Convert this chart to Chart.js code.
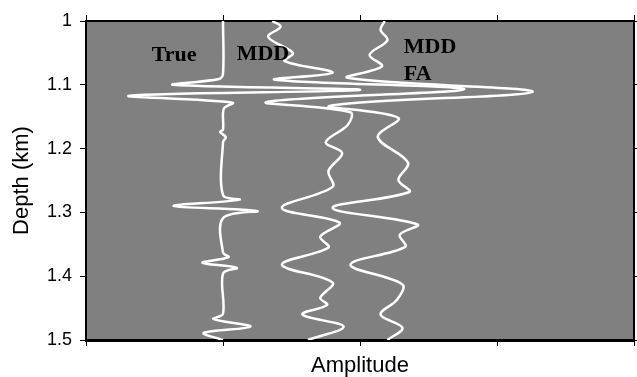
<!DOCTYPE html>
<html>
<head>
<meta charset="utf-8">
<script src="https://cdn.jsdelivr.net/npm/chart.js@4.4.1/dist/chart.umd.min.js"></script>
<style>
  html, body { margin: 0; padding: 0; background: #fff; }
  canvas { display: block; }
</style>
</head>
<body>
<canvas id="traces" width="637" height="377"></canvas>
<script>
// depth axis (km)
const depthMin = 1.0;
const depthMax = 1.5;
const depthTicks = ['1', '1.1', '1.2', '1.3', '1.4', '1.5'];

// trace offsets along the amplitude axis
const trueOffset = 1.0;
const mddOffset = 1.65;
const mddFaOffset = 2.2;

// True trace: depth samples and amplitudes
const trueDepth = [1.000, 1.083, 1.091, 1.100, 1.108, 1.117, 1.128, 1.136, 1.144, 1.170, 1.174, 1.182, 1.190,
  1.273, 1.280, 1.290, 1.298, 1.309, 1.363, 1.370, 1.379, 1.387, 1.396, 1.459, 1.467, 1.479, 1.489, 1.500];
const trueAmp = [0, 0, -0.03, -0.36, 1.0, -0.68, 0.07, 0.01, 0, 0, -0.02, 0.02, 0,
  0, 0.12, -0.36, 0.25, 0, 0, 0.04, -0.15, 0.10, 0, 0, -0.07, 0.20, -0.14, 0];

// MDD trace
const mddDepth = [1.000, 1.009, 1.025, 1.050, 1.063, 1.081, 1.092, 1.107, 1.127, 1.143, 1.163, 1.190, 1.207,
  1.235, 1.260, 1.293, 1.316, 1.338, 1.355, 1.382, 1.410, 1.434, 1.445, 1.460, 1.479, 1.500];
const mddAmp = [-0.29, -0.23, -0.32, -0.14, -0.20, 0.15, -0.27, 1.11, -0.33, 0.28, 0.26, 0.10, 0.22,
  0.12, 0.15, -0.22, 0.20, 0.06, 0.12, -0.22, 0.15, 0.06, 0.11, -0.07, 0.23, -0.03];

// MDD FA trace
const mddFaDepth = [1.000, 1.014, 1.030, 1.053, 1.071, 1.089, 1.111, 1.133, 1.152, 1.182, 1.222, 1.249, 1.268,
  1.293, 1.319, 1.335, 1.354, 1.382, 1.413, 1.437, 1.460, 1.481, 1.500];
const mddFaAmp = [-0.02, -0.05, 0.00, -0.13, -0.04, -0.29, 1.06, -0.42, 0.08, -0.07, 0.15, 0.08, 0.16,
  -0.40, 0.22, 0.09, 0.13, -0.27, 0.11, 0.07, -0.05, 0.11, 0.00];

// trace names written inside the plot (amplitude, depth of baseline)
const labelText = ['True', 'MDD', 'MDD', 'FA'];
const labelX = [0.48, 1.10, 2.32, 2.32];
const labelY = [1.063, 1.061, 1.050, 1.092];

function toPoints(depth, amp, offset) {
    return depth.map((d, i) => ({ x: offset + amp[i], y: d }));
}

function traceSet(label, points) {
    return {
        label: label,
        data: points,
        showLine: true,
        borderColor: '#ffffff',
        borderWidth: 2.5,
        pointRadius: 0,
        tension: 0.35,
        fill: false
    };
}

// grey plot background
const plotBackground = {
    id: 'plotBackground',
    beforeDraw(chart) {
        const a = chart.chartArea;
        const ctx = chart.ctx;
        ctx.save();
        ctx.fillStyle = '#808080';
        ctx.fillRect(a.left, a.top, a.right - a.left, a.bottom - a.top);
        ctx.restore();
    }
};

// bold serif names next to the traces
const traceNames = {
    id: 'traceNames',
    afterDatasetsDraw(chart) {
        const ctx = chart.ctx;
        const xs = chart.scales.x;
        const ys = chart.scales.y;
        ctx.save();
        ctx.fillStyle = '#000000';
        ctx.font = 'bold 22px "Liberation Serif", "Times New Roman", serif';
        ctx.textAlign = 'left';
        ctx.textBaseline = 'alphabetic';
        labelText.forEach((t, i) => {
            ctx.fillText(t, xs.getPixelForValue(labelX[i]), ys.getPixelForValue(labelY[i]));
        });
        ctx.restore();
    }
};

const sansFont = '"Liberation Sans", Arial, Helvetica, sans-serif';

const config = {
    type: 'scatter',
    data: {
        datasets: [
            traceSet('True', toPoints(trueDepth, trueAmp, trueOffset)),
            traceSet('MDD', toPoints(mddDepth, mddAmp, mddOffset)),
            traceSet('MDD FA', toPoints(mddFaDepth, mddFaAmp, mddFaOffset))
        ]
    },
    options: {
        responsive: false,
        animation: false,
        layout: { padding: 0 },
        plugins: {
            legend: { display: false },
            tooltip: { enabled: false }
        },
        scales: {
            x: {
                type: 'linear',
                position: 'bottom',
                min: 0,
                max: 4,
                ticks: { stepSize: 1, display: false },
                grid: { drawOnChartArea: false, drawTicks: true, tickLength: 6, color: '#000' },
                border: { color: '#000', width: 3 },
                title: {
                    display: true,
                    text: 'Amplitude',
                    color: '#000',
                    font: { family: sansFont, size: 22, lineHeight: 1 },
                    padding: 0
                },
                afterFit(scale) { scale.height = 37; }
            },
            x2: {
                type: 'linear',
                axis: 'x',
                position: 'top',
                min: 0,
                max: 4,
                ticks: { stepSize: 1, display: false },
                grid: { drawOnChartArea: false, drawTicks: true, tickLength: 6, color: '#000' },
                border: { color: '#000', width: 2 },
                afterFit(scale) { scale.height = 21; }
            },
            y: {
                type: 'linear',
                position: 'left',
                reverse: true,
                min: depthMin,
                max: depthMax,
                ticks: {
                    stepSize: 0.1,
                    color: '#000',
                    padding: 8,
                    font: { family: sansFont, size: 18 },
                    callback: (v) => depthTicks[Math.round((v - depthMin) * 10)]
                },
                grid: { drawOnChartArea: false, drawTicks: true, tickLength: 6, color: '#000' },
                border: { color: '#000', width: 2 },
                title: {
                    display: true,
                    text: 'Depth (km)',
                    color: '#000',
                    font: { family: sansFont, size: 22, lineHeight: 1 },
                    padding: { top: 11, bottom: 0 }
                },
                afterFit(scale) { scale.width = 86; }
            },
            y2: {
                type: 'linear',
                axis: 'y',
                position: 'right',
                reverse: true,
                min: depthMin,
                max: depthMax,
                ticks: { stepSize: 0.1, display: false },
                grid: { drawOnChartArea: false, drawTicks: true, tickLength: 3, color: '#000' },
                border: { color: '#000', width: 2 },
                afterFit(scale) { scale.width = 3; }
            }
        }
    },
    plugins: [plotBackground, traceNames]
};

const myChart = new Chart(document.getElementById('traces'), config);
</script>
</body>
</html>
